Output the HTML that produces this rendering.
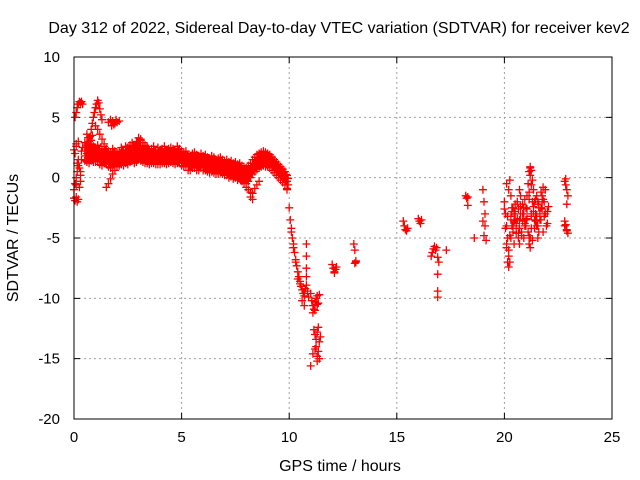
<!DOCTYPE html>
<html><head><meta charset="utf-8">
<style>
body{margin:0;background:#fff;}
svg{display:block;font-family:"Liberation Sans",sans-serif;}
</style></head>
<body>
<svg id="chart" width="640" height="480">
<rect x="0" y="0" width="640" height="480" fill="#fff"/>
<text x="339" y="33" text-anchor="middle" font-size="16">Day 312 of 2022, Sidereal Day-to-day VTEC variation (SDTVAR) for receiver kev2</text>
<text transform="translate(18,238) rotate(-90)" text-anchor="middle" font-size="16">SDTVAR / TECUs</text>
<text x="340" y="471" text-anchor="middle" font-size="16">GPS time / hours</text>
<g id="grid"></g>
<g id="ticks"></g>
<g id="marks"></g>
<rect x="74" y="57" width="538" height="362" fill="none" stroke="#000" stroke-width="1"/>
</svg>
<script>
const xTicks=[0,5,10,15,20,25];
const yTicks=[-20,-15,-10,-5,0,5,10];
const bandStart=0.5, bandStep=0.1;
const bandMid=[2.2,2.0,1.9,2.1,2.0,
1.9,2.0,1.8,1.7,1.9,1.8,1.6,1.5,1.7,1.6,
1.5,1.6,1.8,1.7,1.9,1.8,2.0,2.1,1.9,2.0,
2.2,2.0,1.9,1.8,1.9,1.7,1.8,1.9,1.7,1.8,
1.7,1.8,1.9,1.7,1.8,1.9,1.8,1.7,1.9,1.8,
1.6,1.5,1.6,1.3,1.2,1.4,1.5,1.3,1.2,1.4,
1.2,1.3,1.1,1.0,1.2,1.1,0.9,1.0,1.1,0.9,
0.8,0.9,0.7,0.8,0.6,0.7,0.5,0.6,0.4,0.3,
0.2,0.4,0.6,0.9,1.1,1.3,1.4,1.5,1.6,1.5,
1.5,1.4,1.2,1.0,0.8,0.6,0.4,0.2,0.0,-0.3];
const bandHi=[2.9,2.7,2.6,2.8,2.6,
2.5,2.7,2.4,2.3,2.6,2.4,2.2,2.1,2.4,2.2,
2.1,2.2,2.5,2.3,2.6,2.5,2.7,2.9,2.6,2.7,
2.9,2.6,2.5,2.4,2.6,2.3,2.4,2.6,2.3,2.5,
2.3,2.4,2.6,2.3,2.4,2.5,2.4,2.3,2.6,2.4,
2.2,2.1,2.2,1.9,1.8,2.0,2.1,1.9,1.8,2.0,
1.8,1.9,1.7,1.6,1.8,1.7,1.5,1.6,1.7,1.5,
1.4,1.5,1.3,1.4,1.2,1.3,1.1,1.2,1.0,0.9,
0.8,1.0,1.2,1.5,1.7,1.9,2.0,2.1,2.2,2.1,
2.0,1.9,1.7,1.5,1.3,1.1,0.9,0.7,0.5,0.2];
const bandLo=[1.4,1.3,1.2,1.4,1.3,
1.3,1.3,1.1,1.0,1.2,1.1,0.9,0.8,1.0,0.9,
0.9,1.0,1.1,1.0,1.2,1.1,1.3,1.4,1.2,1.3,
1.5,1.4,1.3,1.2,1.2,1.1,1.2,1.2,1.1,1.1,
1.1,1.2,1.2,1.1,1.2,1.3,1.2,1.1,1.2,1.2,
1.0,0.9,1.0,0.6,0.6,0.8,0.8,0.6,0.6,0.8,
0.6,0.6,0.5,0.4,0.5,0.4,0.3,0.3,0.4,0.3,
0.2,0.2,0.0,0.1,-0.1,0.0,-0.2,-0.1,-0.3,-0.4,
-0.5,-0.3,0.0,0.3,0.5,0.7,0.8,0.9,1.0,0.9,
0.9,0.8,0.6,0.4,0.2,0.0,-0.2,-0.4,-0.6,-0.9];
const extraX=[0.05,0.1,0.15,0.2,0.25,0.3,0.35,0.4, 0.0,0.05,0.1,0.15,0.2,
0.0,0.05,0.1,0.15,0.2,0.25,0.3,0.35,0.4,0.1,0.2,0.3,0.05,0.15,0.25,0.35,0.1,0.2,0.3,0.0,0.1,
0.8,0.85,0.9,0.95,1.0,1.05,1.1,1.15,1.2,1.25,1.3,
1.0,1.1,1.2,1.3,1.4,1.5,1.6,1.7,
1.6,1.7,1.8,1.9,2.0,2.1,1.75,1.85,1.95,
1.5,1.6,1.7,1.8,1.9,2.0,2.1,2.2,2.3,
0.6,0.65,0.7,0.75,0.8,0.85,0.6,0.7,
2.8,2.9,3.0,3.1,3.2,3.3,2.9,3.1,
7.8,7.9,8.0,8.1,8.2,8.3,8.4,8.5,8.6,8.2,8.3,
9.9,10.0,10.05,10.1,10.15,10.2,10.25,10.3,10.35,10.4,10.45,10.5,10.1,10.2,10.3,10.4,
10.5,10.55,10.6,10.65,10.7,10.75,10.8,10.85,10.9,10.8,10.8,10.8,10.8,10.6,10.7,
11.0,11.05,11.1,11.15,11.2,11.25,11.3,11.35,11.4,11.1,11.2,11.3,
11.15,11.2,11.25,11.3,11.35,11.4,11.45,11.25,11.35,11.3,11.4,11.2,11.3,11.0,11.1,
12.0,12.05,12.1,12.15,12.2,12.1,
13.0,13.05,13.1,13.05,13.1,
15.3,15.35,15.4,15.45,15.5,
16.0,16.05,16.1,16.15,
16.6,16.65,16.7,16.75,16.8,16.85,16.9,16.95,16.9,16.9,16.9,17.3,
18.2,18.25,18.3,18.3,18.6,
19.0,19.05,19.1,19.0,19.1,19.05,19.15,
20.0,20.05,20.1,20.15,20.2,20.25,20.3,20.35,20.4,20.45,20.5,20.55,20.6,20.65,20.7,20.75,20.8,20.85,20.9,20.95,
20.1,20.2,20.3,20.4,20.5,20.6,20.7,20.8,20.9,21.0,20.1,20.2,20.3,20.4,20.5,20.6,20.7,20.8,20.9,21.0,
21.0,21.05,21.1,21.15,21.2,21.25,21.3,21.35,21.4,21.45,21.5,21.55,21.6,21.65,21.7,21.75,21.8,21.85,21.9,21.95,
21.1,21.15,21.2,21.25,21.3,21.4,21.5,21.6,21.7,21.8,21.2,21.3,21.4,21.5,21.6,21.7,21.8,22.0,22.0,20.15,20.2,20.25,
20.3,20.35,20.4,20.45,20.5,20.55,20.6,20.65,20.7,20.75,20.85,20.95,21.05,21.15,21.25,21.35,21.45,21.55,21.65,21.75,
20.25,20.35,20.45,20.55,20.65,20.75,20.85,20.95,21.05,21.15,21.25,21.35,21.45,21.55,21.65,21.75,21.2,21.25,21.15,21.2,
20.05,20.1,20.15,20.0,21.9,22.05,21.85,21.95,
22.8,22.85,22.9,22.95,22.8,22.85,22.9,22.95,22.9,22.85,22.8,22.9];
const extraY=[5.0,5.4,5.8,6.1,6.3,6.2,6.3,6.1, -1.7,-1.9,-1.6,-2.0,-1.8,
-1.0,-0.5,0.0,0.5,1.0,-0.8,0.2,1.5,2.5,2.8,3.0,-0.3,2.0,1.2,0.8,2.2,-0.6,1.5,0.5,2.3,2.6,
4.0,4.5,5.0,5.4,5.8,6.1,6.4,6.2,5.7,5.2,4.8,
4.3,4.0,3.6,3.2,2.8,2.4,2.0,1.7,
4.6,4.8,4.7,4.5,4.6,4.7,4.3,4.4,4.8,
-0.8,-0.5,-0.1,0.3,0.6,0.9,1.1,1.3,1.4,
3.6,3.3,3.0,3.4,3.1,3.5,2.9,2.7,
2.6,3.0,3.3,3.1,2.9,2.7,2.8,3.2,
-0.2,-0.5,-0.8,-1.0,-1.2,-1.3,-0.9,-0.6,-0.3,-1.6,-1.8,
-1.0,-2.5,-3.5,-4.2,-5.0,-5.5,-6.2,-6.8,-7.3,-7.8,-8.2,-8.6,-4.5,-5.8,-7.0,-8.4,
-8.8,-9.0,-9.3,-9.6,-9.8,-9.2,-8.9,-9.4,-9.9,-5.5,-6.5,-7.5,-8.2,-10.2,-10.6,
-9.6,-10.2,-10.6,-10.9,-10.3,-10.0,-9.8,-10.4,-9.7,-11.2,-11.0,-10.5,
-12.6,-13.0,-13.4,-12.8,-12.4,-13.6,-13.2,-14.0,-14.4,-14.8,-15.0,-14.2,-15.2,-15.6,-14.6,
-7.2,-7.5,-7.8,-7.6,-7.4,-7.9,
-5.5,-6.0,-6.9,-7.1,-7.0,
-3.6,-4.0,-4.3,-4.4,-4.2,
-3.4,-3.6,-3.8,-3.5,
-6.5,-6.2,-5.9,-5.7,-6.0,-5.8,-6.6,-7.0,-8.0,-9.4,-9.9,-6.0,
-1.5,-1.7,-1.6,-2.3,-5.0,
-1.0,-2.0,-3.0,-3.6,-4.0,-4.8,-5.2,
-2.0,-3.0,-4.0,-5.0,-6.0,-7.0,-3.5,-2.5,-4.5,-5.5,-3.0,-4.0,-2.0,-5.0,-3.5,-1.5,-4.5,-3.0,-2.5,-4.0,
-0.5,-1.0,-1.5,-2.5,-3.5,-2.0,-1.0,-4.5,-3.0,-4.0,-5.5,-6.5,-5.0,-4.0,-3.0,-2.0,-5.5,-4.8,-5.0,-3.5,
-2.5,-1.5,-0.5,0.5,0.9,0.6,-0.2,-1.0,-2.0,-3.0,-4.0,-5.0,-4.5,-3.5,-2.5,-1.5,-0.8,-2.0,-3.0,-4.0,
-4.5,-5.5,-5.0,-3.0,-2.0,-3.5,-1.5,-2.5,-3.5,-4.5,-5.8,-5.2,-4.2,-3.2,-2.2,-1.2,-1.8,-3.8,-2.8,-7.0,-7.4,-0.2,
-3.2,-2.8,-4.2,-3.6,-2.2,-4.6,-3.4,-2.6,-4.2,-3.0,-2.2,-3.8,-2.6,-1.8,-3.2,-2.4,-3.6,-2.0,-3.0,-2.6,
-4.8,-4.0,-2.8,-3.8,-4.6,-2.4,-3.6,-1.8,-3.4,-4.8,-4.2,-2.8,-1.8,-4.0,-3.0,-2.0,0.2,-0.6,-1.2,0.8,
-4.2,-5.8,-3.2,-2.6,-1.0,-2.4,-3.2,-4.0,
-0.3,-0.6,-1.0,-1.5,-3.6,-3.9,-4.3,-4.6,-2.2,-0.1,-4.0,-4.4];

const X0=74,X1=612,Y0=419,Y1=57;
const sx=v=>X0+(v-0)/(25-0)*(X1-X0);
const sy=v=>Y0-(v+20)/30*(Y0-Y1);
const NS="http://www.w3.org/2000/svg";
const grid=document.getElementById('grid'),ticks=document.getElementById('ticks'),marks=document.getElementById('marks');
function mk(tag,attrs,parent){const e=document.createElementNS(NS,tag);for(const k in attrs)e.setAttribute(k,attrs[k]);parent.appendChild(e);return e;}
xTicks.forEach(t=>{const x=sx(t);
 if(t>0&&t<25){const g=mk('line',{x1:x,x2:x,y1:Y1,y2:Y0,stroke:'#a0a0a0','stroke-dasharray':'2,3'},grid);
 
 }
 const tk=mk('path',{d:`M${x},${Y0}v-6M${x},${Y1}v6`,stroke:'#000'},ticks);
 
 
 const l=mk('text',{x:x,y:Y0+23,'text-anchor':'middle','font-size':'15'},ticks);l.textContent=t;
 
 
});
yTicks.forEach(t=>{const y=sy(t);
 if(t>-20&&t<10){const g=mk('line',{x1:X0,x2:X1,y1:y,y2:y,stroke:'#a0a0a0','stroke-dasharray':'2,3'},grid);
 
 }
 const tk=mk('path',{d:`M${X0},${y}h6M${X1},${y}h-6`,stroke:'#000'},ticks);
 
 
 const l=mk('text',{x:X0-14,y:y+5,'text-anchor':'end','font-size':'15'},ticks);l.textContent=t;
 
 
});
let d='';
function plus(h,v){const x=sx(h),y=sy(v);d+=`M${(x-4).toFixed(1)},${y.toFixed(1)}h8M${x.toFixed(1)},${(y-4).toFixed(1)}v8`;}
bandMid.forEach((v,i)=>{const h=bandStart+i*bandStep;plus(h,v);plus(h,bandHi[i]);plus(h,bandLo[i]);plus(h+0.05,(v+bandHi[i])/2);plus(h+0.05,(v+bandLo[i])/2);});
extraX.forEach((h,i)=>plus(h,extraY[i]));
const p=mk('path',{d:d,stroke:'#ff0000','stroke-width':'1.3',fill:'none'},marks);


</script>
</body></html>
